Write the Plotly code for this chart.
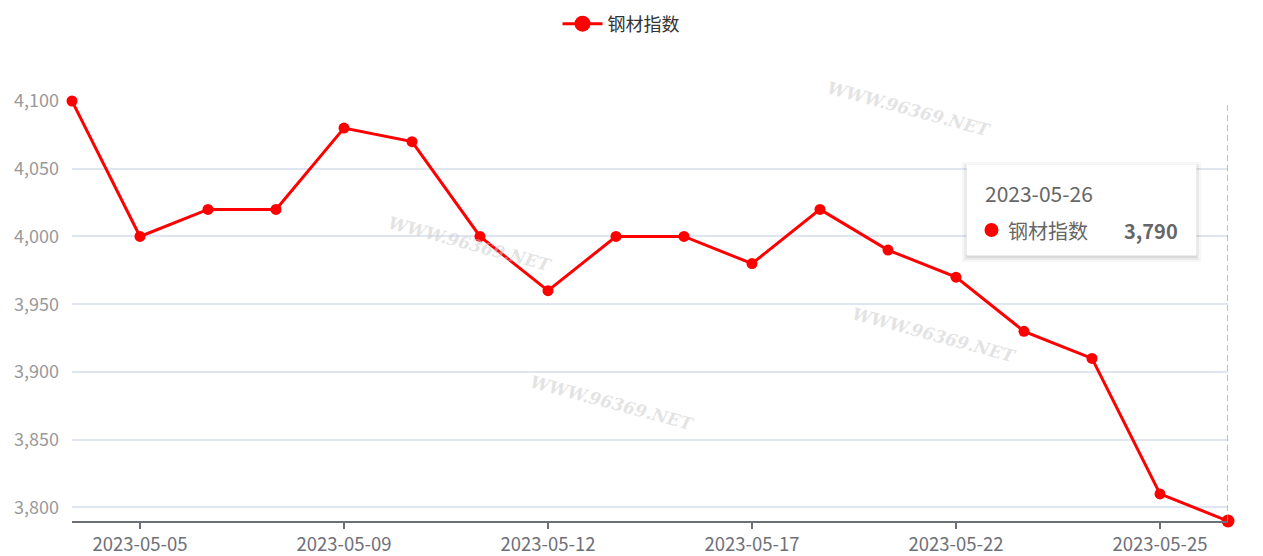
import plotly.graph_objects as go

dates = ["2023-05-04", "2023-05-05", "2023-05-06", "2023-05-08", "2023-05-09", "2023-05-10",
         "2023-05-11", "2023-05-12", "2023-05-15", "2023-05-16", "2023-05-17", "2023-05-18",
         "2023-05-19", "2023-05-22", "2023-05-23", "2023-05-24", "2023-05-25", "2023-05-26"]
values = [4100, 4000, 4020, 4020, 4080, 4070, 4000, 3960, 4000, 4000, 3980, 4020,
          3990, 3970, 3930, 3910, 3810, 3790]
series_name = "钢材指数"
x_tick_labels = ["2023-05-05", "2023-05-09", "2023-05-12", "2023-05-17", "2023-05-22", "2023-05-25"]
y_ticks = [3800, 3850, 3900, 3950, 4000, 4050, 4100]
hover_index = 17

FONT = "Noto Sans CJK SC, Microsoft YaHei, sans-serif"
W, H = 1263, 556
L, R, T, B = 72, 35, 101, 35
PW, PH = W - L - R, H - T - B

def px(x):
    return (x - L) / PW

def py(y):
    return (H - B - y) / PH

fig = go.Figure()
fig.add_trace(go.Scatter(
    x=dates, y=values, name=series_name, mode="lines+markers",
    line=dict(color="#ff0000", width=3),
    marker=dict(color="#ff0000", size=11),
    showlegend=False,
))
fig.add_trace(go.Scatter(
    x=[None], y=[None], name=series_name, mode="lines+markers",
    line=dict(color="#ff0000", width=3),
    marker=dict(color="#ff0000", size=16),
    showlegend=True,
))
# emphasized hovered point
fig.add_trace(go.Scatter(
    x=[dates[hover_index]], y=[values[hover_index]], mode="markers",
    marker=dict(color="#ff0000", size=13), showlegend=False,
))
fig.update_traces(cliponaxis=False)

# watermark text
for (wx, wy) in [(995, 75), (470, 210), (1020, 335), (612, 437)]:
    fig.add_annotation(xref="paper", yref="paper", x=px(wx), y=py(wy), text="<b><i>WWW.96369.NET</i></b>",
                       showarrow=False, textangle=15,
                       font=dict(family="DejaVu Serif, serif", size=17, color="rgba(200,200,200,0.5)"))

# hover pointer line
fig.add_shape(type="line", xref="x", yref="paper", x0=hover_index, x1=hover_index, y0=0, y1=1,
              line=dict(color="#a6aab4", width=1.5, dash="6px,4px"), layer="above")

# tooltip box with shadow
bx0, bx1, by0, by1 = 967, 1196, 165, 255
for off, op in [(5, 0.03), (3, 0.05), (1, 0.07)]:
    fig.add_shape(type="rect", xref="paper", yref="paper",
                  x0=px(bx0 - off), x1=px(bx1 + off), y0=py(by1 + off + 2), y1=py(by0 - off + 2),
                  line=dict(width=0), fillcolor=f"rgba(0,0,0,{op})", layer="above")
fig.add_shape(type="rect", xref="paper", yref="paper",
              x0=px(bx0), x1=px(bx1), y0=py(by1), y1=py(by0),
              line=dict(color="#ffffff", width=1), fillcolor="#ffffff", layer="above")
fig.add_annotation(xref="paper", yref="paper", x=px(983), y=py(193), xanchor="left", yanchor="middle",
                   text=dates[hover_index], showarrow=False,
                   font=dict(family=FONT, size=21, color="#666666"))
fig.add_shape(type="circle", xref="paper", yref="paper",
              x0=px(984.5), x1=px(998.5), y0=py(237), y1=py(223),
              line=dict(width=0), fillcolor="#ff0000", layer="above")
fig.add_annotation(xref="paper", yref="paper", x=px(1006), y=py(230), xanchor="left", yanchor="middle",
                   text=series_name, showarrow=False,
                   font=dict(family=FONT, size=20, color="#666666"))
fig.add_annotation(xref="paper", yref="paper", x=px(1180), y=py(230), xanchor="right", yanchor="middle",
                   text=f"<b>{values[hover_index]:,}</b>", showarrow=False,
                   font=dict(family=FONT, size=20, color="#666666"))

fig.update_layout(
    width=W, height=H,
    margin=dict(l=L, r=R, t=T, b=B, pad=0, autoexpand=False),
    paper_bgcolor="#ffffff", plot_bgcolor="#ffffff",
    font=dict(family=FONT, size=18, color="#6e7079"),
    showlegend=True,
    legend=dict(orientation="h", x=px(621), xanchor="center", y=py(24), yanchor="middle",
                font=dict(family=FONT, size=18, color="#333333"), itemwidth=40),
    hovermode=False,
)
fig.update_xaxes(
    type="category", range=[0, len(dates) - 1], automargin=False,
    tickmode="array", tickvals=x_tick_labels, ticktext=x_tick_labels,
    ticks="outside", ticklen=6, tickcolor="#6e7079", tickwidth=1.5,
    showline=True, linecolor="#6e7079", linewidth=1.5,
    showgrid=False, zeroline=False,
    tickfont=dict(family=FONT, size=18.5, color="#6e7079"),
)
fig.update_yaxes(
    range=[3790, 4100], tickmode="array", tickvals=y_ticks, tickformat=",", automargin=False,
    showgrid=True, gridcolor="#e0e6f1", gridwidth=1.5,
    showline=False, zeroline=False, ticks="",
    tickfont=dict(family=FONT, size=18, color="#999999"),
    ticklabelstandoff=12,
)

fig.write_html("out.html", config={"displayModeBar": False},
               post_script="document.body.style.margin='0';")
